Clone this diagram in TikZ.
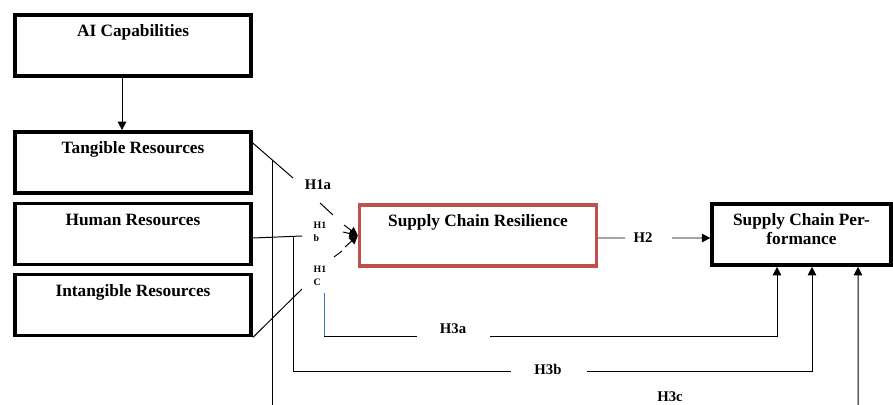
\documentclass[tikz,border=0pt]{standalone}
\usepackage{fontspec}
\setmainfont{Liberation Serif}
\usetikzlibrary{arrows.meta,calc}
\definecolor{scred}{RGB}{192,80,77}
\definecolor{scblue}{RGB}{68,114,196}
\tikzset{
  frame/.style={draw,line width=2.6pt,inner sep=0pt,minimum width=168pt,
    font=\fontsize{12.3}{13.5}\selectfont\bfseries},
  box/.style={frame,text height=15.6pt,text depth=27.8pt},
  hyp/.style={font=\fontsize{10.5}{12}\selectfont\bfseries},
  hsm/.style={font=\fontsize{7}{9}\selectfont\bfseries,align=left},
  tip/.style={-{Triangle[length=6pt,width=6pt]}}
}

\begin{document}
\begin{tikzpicture}[x=0.025cm,y=-0.025cm,line width=0.7pt]
  \useasboundingbox (0,0) rectangle (893,405);
  \clip (0,0) rectangle (893,405);
  \node[box] (ai)  at (133,45.5)  {AI Capabilities};
  \node[box] (tan) at (133,162.5) {Tangible Resources};
  \node[box] (hum) at (133,234)   {Human Resources};
  \node[box] (int) at (133,305)   {Intangible Resources};
  \node[box,draw=scred,line width=2.4pt,minimum width=168.5pt] (scr) at (478,235.5) {Supply Chain Resilience};
  \node[frame,align=center,minimum width=127pt,minimum height=43.4pt] (scp) at (801.5,234.5) {Supply Chain Per-\\formance\\[-5pt]};
  \draw[tip] ($(ai.south)+(-11,0)$) -- ($(tan.north)+(-11,0)$);
  % H1a, H1b, H1c
  \draw ($(tan.north east)+(0,13)$) -- (293,178);
  \node[hyp] (h1a) at (318,185) {H1a};
  \draw (320,203) -- (333,215);
  \draw[tip] (344,225) -- (scr.west);
  \draw ($(hum.east)+(0,4)$) -- (302,236);
  \node[hsm] (h1b) at (320,232) {H1\\b};
  \draw[tip] (343,232) -- (scr.west);
  \draw (int.south east) -- (302,289);
  \node[hsm] (h1c) at (320,276) {H1\\C};
  \draw (334,257) -- (342,251);
  \draw[tip] (345,247) -- (scr.west);
  % H2
  \draw ($(scr.east)+(0,2.5)$) -- (625,238);
  \node[hyp] (h2) at (643,238) {H2};
  \draw[tip] (672,238) -- ($(scp.west)+(0,3.5)$);
  % H3a, H3b, H3c
  \draw[scblue] (324,293) -- (324,336);
  \draw (324,336) -- (417,336);
  \node[hyp] (h3a) at (453,329) {H3a};
  \draw[tip] (490,336) -| ($(scp.south)+(-24.5,0)$);
  \draw (293,236) -- (293,371) -- (511,371);
  \node[hyp] (h3b) at (548,369) {H3b};
  \draw[tip] (587,371) -| ($(scp.south)+(10.5,0)$);
  \draw (272,160) -- (272,420);
  \node[hyp] (h3c) at (670,397) {H3c};
  \draw[tip] (858,420) -- ($(scp.south)+(56.5,0)$);
\end{tikzpicture}
\end{document}
